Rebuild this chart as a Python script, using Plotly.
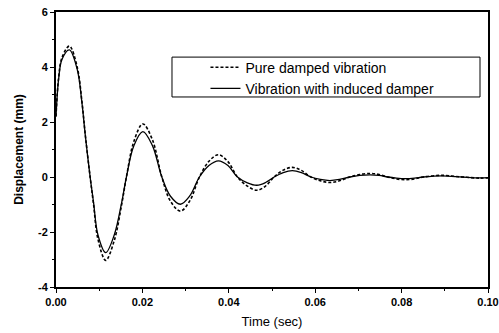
import plotly.graph_objects as go

# Time (sec): extremes, zero crossings and shoulder points
time_s = [0.0, 0.0006, 0.0014, 0.0031, 0.0049, 0.0060, 0.0068, 0.0079, 0.0087,
          0.0097, 0.0115, 0.0135, 0.0152, 0.0163, 0.0180, 0.0201, 0.0223,
          0.0245, 0.0265, 0.0288, 0.0310, 0.0332, 0.0354, 0.0376, 0.0398,
          0.0420, 0.0443, 0.0465, 0.0485, 0.0505, 0.0526, 0.0547, 0.0568,
          0.0590, 0.0612, 0.0634, 0.0656, 0.0680, 0.0703, 0.0727, 0.0748,
          0.0768, 0.0788, 0.0808, 0.0830, 0.0850, 0.0893, 0.0940, 0.0980, 0.1000]

pure_damped = [2.2, 3.6, 4.35, 4.76, 4.0, 2.75, 1.5, 0.0, -1.0,
               -2.25, -3.03, -2.3, -1.0, 0.0, 1.28, 1.93, 1.36,
               0.0, -0.88, -1.24, -0.86, 0.0, 0.57, 0.81, 0.56,
               0.0, -0.33, -0.48, -0.33, 0.0, 0.25, 0.35, 0.24,
               0.0, -0.14, -0.20, -0.14, 0.0, 0.09, 0.13, 0.09,
               0.0, -0.07, -0.10, -0.07, 0.0, 0.06, 0.0, -0.04, -0.03]

induced_damper = [2.2, 3.55, 4.28, 4.62, 3.92, 2.7, 1.49, 0.0, -0.93,
                  -2.1, -2.75, -2.1, -0.93, 0.0, 1.13, 1.65, 1.15,
                  0.0, -0.70, -0.99, -0.68, 0.0, 0.42, 0.59, 0.42,
                  0.0, -0.21, -0.30, -0.20, 0.0, 0.16, 0.23, 0.16,
                  0.0, -0.09, -0.13, -0.09, 0.0, 0.06, 0.08, 0.06,
                  0.0, -0.04, -0.06, -0.04, 0.0, 0.04, 0.0, -0.03, -0.02]

series_names = ["Pure damped vibration", "Vibration with induced damper"]

x_tickvals = [0.0, 0.02, 0.04, 0.06, 0.08, 0.10]
x_ticktext = ["0.00", "0.02", "0.04", "0.06", "0.08", "0.10"]
y_tickvals = [-4, -2, 0, 2, 4, 6]
y_ticktext = ["-4", "-2", "0", "2", "4", "6"]

FONT = "Liberation Sans, Arial, sans-serif"

fig = go.Figure()
fig.add_trace(go.Scatter(
    x=time_s, y=pure_damped, name=series_names[0], mode="lines",
    line=dict(color="black", width=1.6, dash="3px,2px", shape="spline", smoothing=1.0),
))
fig.add_trace(go.Scatter(
    x=time_s, y=induced_damper, name=series_names[1], mode="lines",
    line=dict(color="black", width=1.3, shape="spline", smoothing=1.0),
))

axis_common = dict(
    showline=True, linecolor="black", linewidth=2, mirror=True,
    showgrid=False, zeroline=False, automargin=False,
    ticks="outside", ticklen=4, tickwidth=1, tickcolor="black",
    tickfont=dict(family=FONT, size=11, color="black", weight="bold"),
)

fig.update_xaxes(
    range=[0, 0.10], tickvals=x_tickvals, ticktext=x_ticktext,
    minor=dict(ticks="outside", ticklen=2, dtick=0.01, tickcolor="black"),
    title=dict(text="Time (sec)", font=dict(family=FONT, size=13, color="black"), standoff=10),
    **axis_common,
)
fig.update_yaxes(
    range=[-4, 6], tickvals=y_tickvals, ticktext=y_ticktext,
    minor=dict(ticks="outside", ticklen=2, dtick=1, tickcolor="black"),
    title=dict(text="Displacement (mm)", font=dict(family=FONT, size=12, color="black", weight="bold"), standoff=12),
    **axis_common,
)

fig.add_shape(type="rect", xref="paper", yref="paper",
              x0=0.2685, x1=0.9815, y0=0.691, y1=0.836,
              line=dict(color="black", width=1), fillcolor="rgba(0,0,0,0)")

fig.update_layout(
    width=499, height=333,
    margin=dict(l=56, r=11, t=12, b=46),
    paper_bgcolor="white", plot_bgcolor="white",
    showlegend=True,
    legend=dict(x=0.346, y=0.856, xanchor="left", yanchor="top",
                bgcolor="rgba(0,0,0,0)", borderwidth=0,
                font=dict(family=FONT, size=14, color="black")),
    font=dict(family=FONT, color="black"),
)

fig.write_html("out.html")
